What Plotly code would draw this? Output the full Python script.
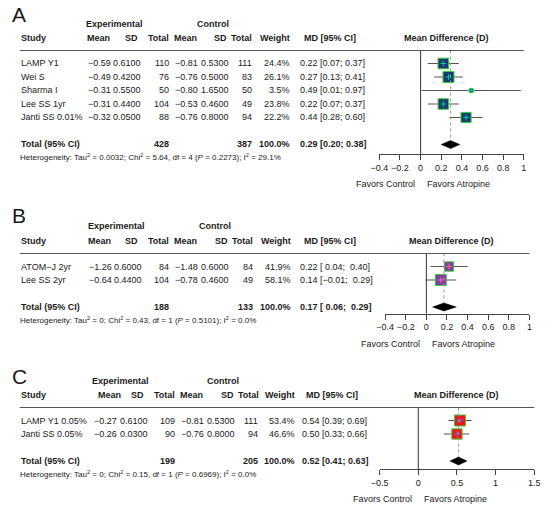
import plotly.graph_objects as go

W, H = 550, 507
FONT = "Liberation Sans, Arial, sans-serif"
TXT = "#1a1a1a"

# ---------------- Data ----------------
A_study = ["LAMP Y1", "Wei S", "Sharma I", "Lee SS 1yr", "Janti SS 0.01%"]
A_mean_e = [-0.59, -0.49, -0.31, -0.31, -0.32]
A_sd_e = [0.61, 0.42, 0.55, 0.44, 0.05]
A_n_e = [110, 76, 50, 104, 88]
A_mean_c = [-0.81, -0.76, -0.80, -0.53, -0.76]
A_sd_c = [0.53, 0.50, 1.65, 0.46, 0.80]
A_n_c = [111, 83, 50, 49, 94]
A_weight = [24.4, 26.1, 3.5, 23.8, 22.2]
A_md = [0.22, 0.27, 0.49, 0.22, 0.44]
A_lo = [0.07, 0.13, 0.01, 0.07, 0.28]
A_hi = [0.37, 0.41, 0.97, 0.37, 0.60]
A_total = [0.29, 0.20, 0.38]
A_total_n = [428, 387]
A_het = ["0.0032", "5.64", "4", "0.2273", "29.1%"]
A_ticks = [-0.4, -0.2, 0, 0.2, 0.4, 0.6, 0.8, 1]
A_ticklabels = ["−0.4", "−0.2", "0", "0.2", "0.4", "0.6", "0.8", "1"]

B_study = ["ATOM−J 2yr", "Lee SS 2yr"]
B_mean_e = [-1.26, -0.64]
B_sd_e = [0.60, 0.44]
B_n_e = [84, 104]
B_mean_c = [-1.48, -0.78]
B_sd_c = [0.60, 0.46]
B_n_c = [84, 49]
B_weight = [41.9, 58.1]
B_md = [0.22, 0.14]
B_lo = [0.04, -0.01]
B_hi = [0.40, 0.29]
B_total = [0.17, 0.06, 0.29]
B_total_n = [188, 133]
B_het = ["0", "0.43", "1", "0.5101", "0.0%"]
B_ticks = [-0.4, -0.2, 0, 0.2, 0.4, 0.6, 0.8, 1]
B_ticklabels = ["−0.4", "−0.2", "0", "0.2", "0.4", "0.6", "0.8", "1"]

C_study = ["LAMP Y1 0.05%", "Janti SS 0.05%"]
C_mean_e = [-0.27, -0.26]
C_sd_e = [0.61, 0.03]
C_n_e = [109, 90]
C_mean_c = [-0.81, -0.76]
C_sd_c = [0.53, 0.80]
C_n_c = [111, 94]
C_weight = [53.4, 46.6]
C_md = [0.54, 0.50]
C_lo = [0.39, 0.33]
C_hi = [0.69, 0.66]
C_total = [0.52, 0.41, 0.63]
C_total_n = [199, 205]
C_het = ["0", "0.15", "1", "0.6969", "0.0%"]
C_ticks = [-0.5, 0, 0.5, 1, 1.5]
C_ticklabels = ["−0.5", "0", "0.5", "1", "1.5"]

# ---------------- Layout geometry (pixels) ----------------
ROW = 13.5
panels = [
    dict(key="A", study=A_study, me=A_mean_e, se=A_sd_e, ne=A_n_e, mc=A_mean_c, sc=A_sd_c, nc=A_n_c,
         w=A_weight, md=A_md, lo=A_lo, hi=A_hi, tot=A_total, totn=A_total_n, het=A_het,
         ticks=A_ticks, tlab=A_ticklabels,
         line_y=50.5, axis_y=154, letter_y=14, x0=380.7, x1=529.3, fill="#1B3A6F",
         exp_x=108, ctl_x=210, mdh_x=450,
         hdr=[("Study", 11, "left"), ("Mean", 79, "left"), ("SD", 134, "right"), ("Total", 166, "right"),
              ("Mean", 169, "left"), ("SD", 225, "right"), ("Total", 251, "right"),
              ("Weight", 290, "right"), ("MD [95% CI]", 330, "center")],
         cols=[106, 137, 166, 195, 227, 251, 290], mdx=298),
    dict(key="B", study=B_study, me=B_mean_e, se=B_sd_e, ne=B_n_e, mc=B_mean_c, sc=B_sd_c, nc=B_n_c,
         w=B_weight, md=B_md, lo=B_lo, hi=B_hi, tot=B_total, totn=B_total_n, het=B_het,
         ticks=B_ticks, tlab=B_ticklabels,
         line_y=253.5, axis_y=313.5, letter_y=216, x0=386.7, x1=535, fill="#7E3F9E",
         exp_x=110, ctl_x=212, mdh_x=455,
         hdr=[("Study", 11, "left"), ("Mean", 80, "left"), ("SD", 134, "right"), ("Total", 166, "right"),
              ("Mean", 169, "left"), ("SD", 226, "right"), ("Total", 252, "right"),
              ("Weight", 291, "right"), ("MD [95% CI]", 330, "center")],
         cols=[107, 138, 166, 195, 227, 252, 291], mdx=298),
    dict(key="C", study=C_study, me=C_mean_e, se=C_sd_e, ne=C_n_e, mc=C_mean_c, sc=C_sd_c, nc=C_n_c,
         w=C_weight, md=C_md, lo=C_lo, hi=C_hi, tot=C_total, totn=C_total_n, het=C_het,
         ticks=C_ticks, tlab=C_ticklabels,
         line_y=407.5, axis_y=469, letter_y=376, x0=381, x1=540, fill="#F01414",
         exp_x=115, ctl_x=220, mdh_x=460,
         hdr=[("Study", 11, "left"), ("Mean", 90, "left"), ("SD", 140, "right"), ("Total", 172, "right"),
              ("Mean", 175, "left"), ("SD", 232, "right"), ("Total", 258, "right"),
              ("Weight", 295, "right"), ("MD [95% CI]", 332, "center")],
         cols=[112, 144, 172, 202, 233, 257, 295], mdx=300),
]


def px(x):
    return x / W


def py(y):
    return 1 - y / H


def fnum(v, d):
    s = f"{v:.{d}f}"
    return s.replace("-", "−")


def fci(v, pad):
    s = fnum(v, 2)
    if pad and v >= 0:
        s = " " + s
    return s


fig = go.Figure()
annotations = []
shapes = []
layout_axes = {}


def ann(text, x, y, anchor, size=9, bold=False, yref="paper", xref="paper", xshift=0):
    if bold:
        text = "<b>" + text + "</b>"
    annotations.append(dict(text=text, x=x, y=y, xref=xref, yref=yref, xanchor=anchor,
                            yanchor="middle", showarrow=False, xshift=xshift,
                            font=dict(size=size, color=TXT, family=FONT), borderpad=0))


for i, p in enumerate(panels):
    sfx = "" if i == 0 else str(i + 1)
    xa, ya = "x" + sfx, "y" + sfx
    n = len(p["study"])
    rows = list(range(1, n + 1))
    trow = n + 2
    row_px = lambda r: p["line_y"] + 13 + (r - 1) * ROW
    r_top = 1 - 13.0 / ROW
    r_bot = trow + (p["axis_y"] - row_px(trow)) / ROW

    layout_axes["xaxis" + sfx] = dict(
        domain=[px(p["x0"]), px(p["x1"])], range=[p["ticks"][0], p["ticks"][-1]],
        anchor=ya, tickvals=p["ticks"], ticktext=p["tlab"], showline=True, linecolor="#444",
        linewidth=1, ticks="outside", ticklen=5, tickcolor="#444", tickwidth=1,
        showgrid=False, zeroline=False, tickfont=dict(size=9, color=TXT, family=FONT),
        ticklabelstandoff=0, fixedrange=True)
    layout_axes["yaxis" + sfx] = dict(
        domain=[py(p["axis_y"]), py(p["line_y"])], range=[r_bot, r_top], anchor=xa,
        visible=False, fixedrange=True)

    # CI lines
    cx, cy = [], []
    for lo, hi, r in zip(p["lo"], p["hi"], rows):
        cx += [lo, hi, None]
        cy += [r, r, None]
    fig.add_trace(go.Scatter(x=cx, y=cy, mode="lines", line=dict(color="#555", width=1),
                             xaxis=xa, yaxis=ya, hoverinfo="skip", showlegend=False))
    # squares (side proportional to sqrt of weight)
    wmax = max(p["w"])
    sizes = [11 * (w / wmax) ** 0.5 for w in p["w"]]
    fig.add_trace(go.Scatter(x=p["md"], y=rows, mode="markers",
                             marker=dict(symbol="square", size=sizes, color=p["fill"], opacity=1,
                                         line=dict(color="#3ACD3A", width=1)),
                             xaxis=xa, yaxis=ya, showlegend=False))
    fig.add_trace(go.Scatter(x=p["md"], y=rows, mode="markers",
                             marker=dict(symbol="cross-thin-open", size=4, opacity=1,
                                         line=dict(color="black", width=1)),
                             xaxis=xa, yaxis=ya, hoverinfo="skip", showlegend=False))
    # diamond
    m, lo, hi = p["tot"]
    hh = 4.0 / ROW
    fig.add_trace(go.Scatter(x=[lo, m, hi, m, lo], y=[trow, trow - hh, trow, trow + hh, trow],
                             mode="lines", fill="toself", fillcolor="black",
                             line=dict(color="black", width=0.5),
                             xaxis=xa, yaxis=ya, hoverinfo="skip", showlegend=False))

    # zero line, dotted summary line, header rule
    shapes.append(dict(type="line", xref=xa, yref=ya + " domain", x0=0, x1=0, y0=0, y1=1,
                       line=dict(color="#333", width=1)))
    shapes.append(dict(type="line", xref=xa, yref=ya, x0=m, x1=m, y0=r_top, y1=trow - hh,
                       line=dict(color="#9a9a9a", width=1, dash="dot")))
    shapes.append(dict(type="line", xref="paper", yref="paper", x0=px(11), x1=px(p["x1"]),
                       y0=py(p["line_y"]), y1=py(p["line_y"]), line=dict(color="#555", width=1)))

    # panel letter
    ann(p["key"], px(2), py(p["letter_y"]), "left", size=21)
    # headers
    hy = py(p["line_y"] - 13)
    ey = py(p["line_y"] - 27)
    ann("Experimental", px(p["exp_x"]), ey, "center", bold=True)
    ann("Control", px(p["ctl_x"]), ey, "center", bold=True)
    for t, x, a in p["hdr"]:
        ann(t, px(x), hy, a, bold=True)
    ann("Mean Difference (D)", px(p["mdh_x"]), hy, "center", bold=True)

    # rows
    pad = any(v < 0 for v in p["lo"] + p["hi"])
    for j, r in enumerate(rows):
        vals = [fnum(p["me"][j], 2), fnum(p["se"][j], 4), str(p["ne"][j]),
                fnum(p["mc"][j], 2), fnum(p["sc"][j], 4), str(p["nc"][j]),
                f"{p['w'][j]:.1f}%"]
        ann(p["study"][j], px(11), r, "left", yref=ya)
        for v, x in zip(vals, p["cols"]):
            ann(v, px(x), r, "right", yref=ya)
        ci = f"{fnum(p['md'][j], 2)} [{fci(p['lo'][j], pad)}; {fci(p['hi'][j], pad)}]"
        ann(ci, px(p["mdx"]), r, "left", yref=ya)

    # total row
    ann("Total (95% CI)", px(11), trow, "left", bold=True, yref=ya)
    ann(str(p["totn"][0]), px(p["cols"][2]), trow, "right", bold=True, yref=ya)
    ann(str(p["totn"][1]), px(p["cols"][5]), trow, "right", bold=True, yref=ya)
    ann("100.0%", px(p["cols"][6]), trow, "right", bold=True, yref=ya)
    tci = f"{fnum(m, 2)} [{fci(lo, pad)}; {fci(hi, pad)}]"
    ann(tci, px(p["mdx"]), trow, "left", bold=True, yref=ya)

    # heterogeneity
    h = p["het"]
    htxt = (f"Heterogeneity: Tau<sup>2</sup> = {h[0]}; Chi<sup>2</sup> = {h[1]}, df = {h[2]} "
            f"(<i>P</i> = {h[3]}); I<sup>2</sup> = {h[4]}")
    ann(htxt, px(10), py(row_px(trow) + 12.5), "left", size=8)

    # favors labels
    fy = py(p["axis_y"] + 30)
    ann("Favors Control", 0, fy, "right", xref=xa, xshift=-5)
    ann("Favors Atropine", 0, fy, "left", xref=xa, xshift=5)

fig.update_layout(width=W, height=H, autosize=False, margin=dict(l=0, r=0, t=0, b=0),
                  paper_bgcolor="white", plot_bgcolor="white", showlegend=False,
                  font=dict(family=FONT, size=9, color=TXT),
                  annotations=annotations, shapes=shapes, **layout_axes)

fig.write_html("out.html", config={"displayModeBar": False, "staticPlot": True},
               post_script="document.body.style.margin='0';document.body.style.overflow='hidden';")
